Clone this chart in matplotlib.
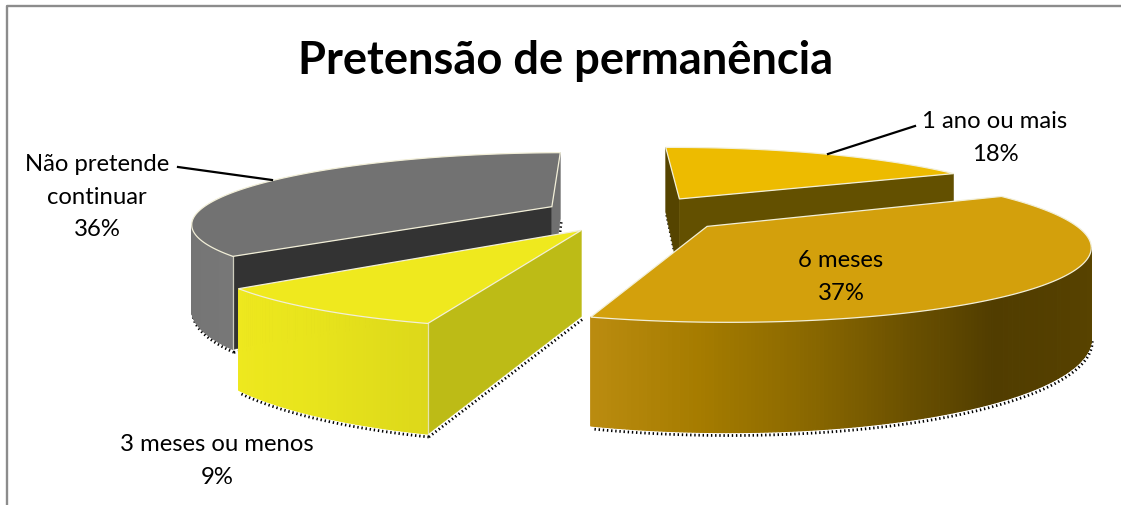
#!/usr/bin/env python3

import numpy as np
import matplotlib
matplotlib.use("Agg")
import matplotlib.pyplot as plt
from matplotlib.colors import to_rgb
from matplotlib.patches import Polygon

plt.rcParams["font.family"] = ["Lato", "DejaVu Sans"]

TITLE = "Pretensão de permanência"
CATEGORIES = ["1 ano ou mais", "6 meses", "3 meses ou menos", "Não pretende\ncontinuar"]
VALUES = [18, 37, 9, 36]

TOP_COLORS = ["#EDBB00", "#D3A00C", "#EFE91E", "#727272"]
START_FACE_COLORS = ["#554400", "#5A4500", "#BDBB16", "#333333"]
END_FACE_COLORS = ["#635000", "#5A4500", "#BDBB16", "#707070"]
# colour of the round wall, from the end angle of a slice back to its start
WALL_COLORS = [
    ["#635000", "#635000"],
    ["#BB8C10", "#A67C00", "#8A6800", "#6A5000", "#513D00", "#543F00",
     "#574200", "#5A4500", "#5A4500", "#5A4500", "#5A4500"],
    ["#EEE81E", "#E8E41C", "#DDD81A"],
    ["#6E6E6E", "#707070", "#777777"],
]
DRAW_ORDER = [0, 3, 2, 1]

# camera: vanishing point and scales, in pixels of the picture
VP_X, VP_Y = 634.0, -100.0
TOP_G, BOT_G = 315.0, 397.0
F = 1568.0
RADIUS_X = 0.227
RADIUS_Y = 0.218
EXPLODE = 0.0587
ROTATION = -1.2


def project(x, y, g):
    w = 1.0 + np.asarray(y)
    return VP_X + F * np.asarray(x) / w, VP_Y + g / w


def wall_colour(stops, t):
    rgb = np.array([to_rgb(c) for c in stops])
    pos = np.linspace(0, 1, len(stops))
    return [np.interp(t, pos, rgb[:, k]) for k in range(3)]


def signed_area(pts):
    x, y = np.array(pts).T
    return 0.5 * np.sum(x * np.roll(y, -1) - np.roll(x, -1) * y)


def draw_shadow(ax, xs, ys):
    # zorder of the patches, so the slices in front paint over it
    ax.plot(np.asarray(xs) + 1, np.asarray(ys) + 3, color="black", lw=2.0,
            ls=(0, (0.5, 1.0)), zorder=1)


def draw_face(ax, pts, color):
    if signed_area(pts) < 0:
        draw_shadow(ax, [pts[2][0], pts[3][0]], [pts[2][1], pts[3][1]])
        ax.add_patch(Polygon(pts, closed=True, fc=color, ec=color, lw=0.4))


def draw_slice(ax, idx, start, end):
    mid = np.radians((start + end) / 2)
    ox, oy = EXPLODE * np.sin(mid), EXPLODE * np.cos(mid)
    th = np.radians(np.linspace(start, end, int(end - start) * 2 + 2))
    rx = ox + RADIUS_X * np.sin(th)
    ry = oy + RADIUS_Y * np.cos(th)

    tx, ty = project(rx, ry, TOP_G)
    bx, by = project(rx, ry, BOT_G)
    apex_t = project(ox, oy, TOP_G)
    apex_b = project(ox, oy, BOT_G)

    quads = [[(tx[k], ty[k]), (tx[k + 1], ty[k + 1]), (bx[k + 1], by[k + 1]), (bx[k], by[k])]
             for k in range(len(th) - 1)]

    # dotted shadow under the walls
    vis = np.array([signed_area(q) < 0 for q in quads] + [signed_area(quads[-1]) < 0])
    draw_shadow(ax, np.where(vis, bx, np.nan), np.where(vis, by, np.nan))

    # straight faces towards the centre
    draw_face(ax, [apex_t, (tx[0], ty[0]), (bx[0], by[0]), apex_b], START_FACE_COLORS[idx])
    draw_face(ax, [(tx[-1], ty[-1]), apex_t, apex_b, (bx[-1], by[-1])], END_FACE_COLORS[idx])

    # round wall
    for k, q in enumerate(quads):
        if signed_area(q) < 0:
            t = (end - np.degrees(th[k])) / (end - start)
            c = wall_colour(WALL_COLORS[idx], t)
            ax.add_patch(Polygon(q, closed=True, fc=c, ec=c, lw=0.9))

    # light edge on the vertical corners
    if idx in (2, 3):
        ax.plot([tx[0], bx[0]], [ty[0], by[0]], color="#EDEBD8", lw=0.9, alpha=0.8, zorder=1)

    top = [apex_t] + list(zip(tx, ty))
    ax.add_patch(Polygon(top, closed=True, fc=TOP_COLORS[idx], ec="#F2EFD8", lw=0.9))


def main():
    fig = plt.figure(figsize=(11.21, 5.06), dpi=100)
    ax = fig.add_axes([0, 0, 1, 1])
    ax.set_xlim(0, 1121)
    ax.set_ylim(506, 0)
    ax.axis("off")

    # frame of the chart area, cut off on the right and at the bottom
    ax.plot([7, 7, 1121], [506, 7, 7], color="#8C8C8C", lw=1.7)

    shares = np.array(VALUES) / sum(VALUES) * 360
    ends = np.cumsum(shares) + ROTATION
    starts = ends - shares
    for idx in DRAW_ORDER:
        draw_slice(ax, idx, starts[idx], ends[idx])

    ax.text(566, 61, TITLE, ha="center", va="center", fontsize=32.6, fontweight="bold", color="black")

    # leader lines
    ax.plot([178, 272], [168, 181], color="black", lw=1.6)
    ax.plot([915, 828], [127, 155], color="black", lw=1.6)

    label_pos = [(995, 138), (841, 277), (217, 461), (97, 197)]
    for name, val, (lx, ly) in zip(CATEGORIES, VALUES, label_pos):
        ax.text(lx, ly, f"{name}\n{val}%", ha="center", va="center", fontsize=17.2,
                color="black", linespacing=1.65)

    fig.savefig("out.png", dpi=100)
    plt.close(fig)


if __name__ == "__main__":
    main()
